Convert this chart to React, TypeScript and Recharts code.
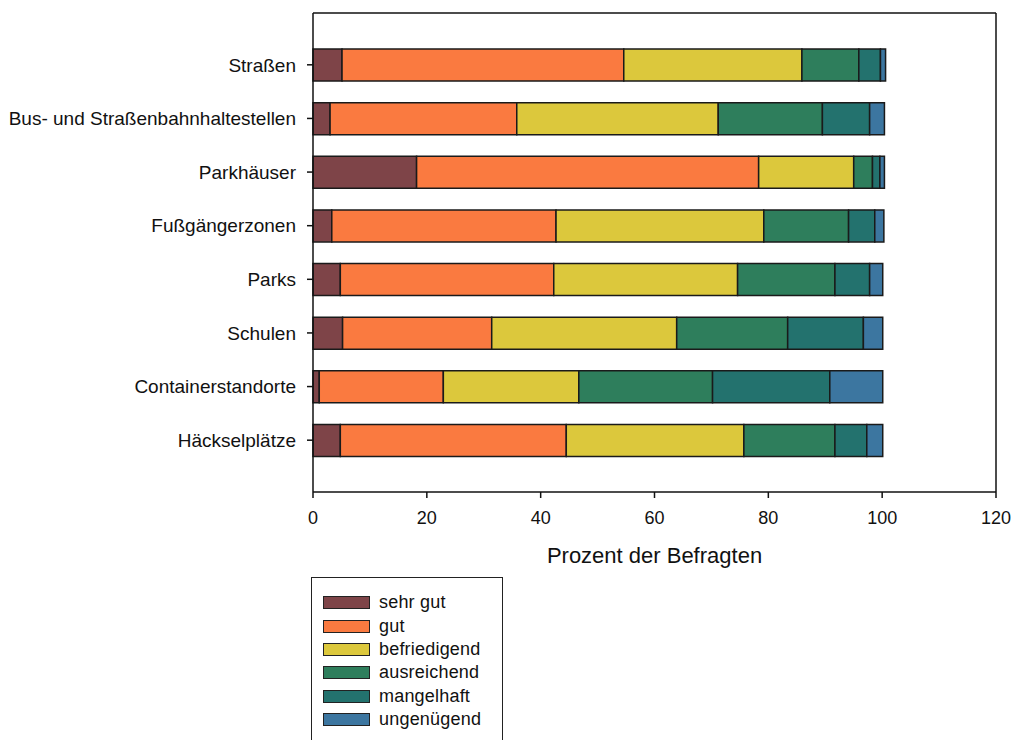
import { BarChart, Bar, XAxis, YAxis, Label } from "recharts";

// Kategorien (von oben nach unten)
const categories = [
  "Straßen",
  "Bus- und Straßenbahnhaltestellen",
  "Parkhäuser",
  "Fußgängerzonen",
  "Parks",
  "Schulen",
  "Containerstandorte",
  "Häckselplätze",
];

// Prozent der Befragten je Bewertung
const sehrGut = [5.1, 3.0, 18.2, 3.3, 4.8, 5.2, 1.1, 4.8];
const gut = [49.5, 32.8, 60.1, 39.4, 37.5, 26.2, 21.8, 39.7];
const befriedigend = [31.3, 35.4, 16.7, 36.5, 32.3, 32.5, 23.8, 31.2];
const ausreichend = [10.0, 18.3, 3.3, 14.9, 17.1, 19.5, 23.5, 16.0];
const mangelhaft = [3.8, 8.3, 1.3, 4.6, 6.1, 13.3, 20.6, 5.6];
const ungenuegend = [0.9, 2.6, 0.8, 1.6, 2.3, 3.4, 9.3, 2.8];

const xTicks = [0, 20, 40, 60, 80, 100, 120];

const series = [
  { key: "sehrGut", name: "sehr gut", color: "#7E4448" },
  { key: "gut", name: "gut", color: "#FA7A40" },
  { key: "befriedigend", name: "befriedigend", color: "#DCC83C" },
  { key: "ausreichend", name: "ausreichend", color: "#2E7E5C" },
  { key: "mangelhaft", name: "mangelhaft", color: "#23726E" },
  { key: "ungenuegend", name: "ungenügend", color: "#3C76A0" },
];

const data = categories.map((name, i) => ({
  name,
  sehrGut: sehrGut[i],
  gut: gut[i],
  befriedigend: befriedigend[i],
  ausreichend: ausreichend[i],
  mangelhaft: mangelhaft[i],
  ungenuegend: ungenuegend[i],
}));

const FONT = '"Liberation Sans", Arial, sans-serif';

const LegendBox = () => (
  <div
    style={{
      position: "absolute",
      left: 311,
      top: 577,
      width: 192,
      height: 180,
      border: "1.5px solid #222",
      background: "#fff",
      boxSizing: "border-box",
      paddingTop: 13,
      fontFamily: FONT,
    }}
  >
    {series.map((s) => (
      <div
        key={s.key}
        style={{ display: "flex", alignItems: "center", height: 23.4 }}
      >
        <div
          style={{
            marginLeft: 11,
            width: 45,
            height: 11,
            background: s.color,
            border: "1px solid #222",
          }}
        />
        <span
          style={{
            marginLeft: 9,
            fontSize: 18,
            color: "#111",
            letterSpacing: 0.2,
          }}
        >
          {s.name}
        </span>
      </div>
    ))}
  </div>
);

export default function App() {
  return (
    <div style={{ position: "absolute", left: 0, top: 0, width: 1012, height: 740, overflow: "hidden", background: "#fff" }}>
      <BarChart
        width={1012}
        height={740}
        data={data}
        layout="vertical"
        margin={{ top: 12, right: 15, left: 0, bottom: 168 }}
        barSize={32}
      >
        <XAxis
          type="number"
          domain={[0, 120]}
          ticks={xTicks}
          tickSize={6}
          tickMargin={13}
          height={80}
          interval={0}
          axisLine={{ stroke: "#111", strokeWidth: 1.5 }}
          tickLine={{ stroke: "#111", strokeWidth: 1.5 }}
          tick={{ fill: "#111", fontSize: 18, fontFamily: FONT }}
        >
          <Label
            value="Prozent der Befragten"
            position="insideBottom"
            offset={9}
            style={{ fill: "#111", fontSize: 22, fontFamily: FONT }}
          />
        </XAxis>
        <XAxis
          xAxisId="top"
          orientation="top"
          type="number"
          domain={[0, 120]}
          height={1}
          tick={false}
          tickLine={false}
          axisLine={{ stroke: "#111", strokeWidth: 1.5 }}
        />
        <YAxis
          type="category"
          dataKey="name"
          width={313}
          padding={{ top: 25, bottom: 25 }}
          tickSize={6}
          tickMargin={11}
          interval={0}
          axisLine={{ stroke: "#111", strokeWidth: 1.5 }}
          tickLine={{ stroke: "#111", strokeWidth: 1.5 }}
          tick={{ fill: "#111", fontSize: 19, fontFamily: FONT }}
        />
        <YAxis
          yAxisId="right"
          orientation="right"
          type="category"
          dataKey="name"
          width={1}
          tick={false}
          tickLine={false}
          axisLine={{ stroke: "#111", strokeWidth: 1.5 }}
        />
        {series.map((s) => (
          <Bar
            key={s.key}
            dataKey={s.key}
            name={s.name}
            stackId="a"
            fill={s.color}
            stroke="#1a1a1a"
            strokeWidth={1.5}
            isAnimationActive={false}
          />
        ))}
      </BarChart>
      <LegendBox />
    </div>
  );
}
